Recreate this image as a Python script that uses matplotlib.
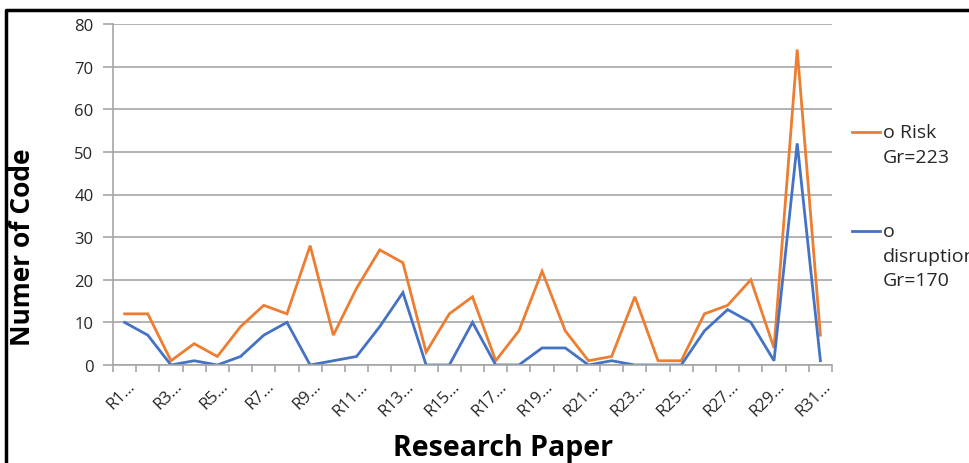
import matplotlib.pyplot as plt
from matplotlib.lines import Line2D
from matplotlib.transforms import ScaledTranslation
import numpy as np

plt.rcParams['font.family'] = ['Open Sans', 'DejaVu Sans']

# codes found per research paper
papers = ["R1", "R2", "R3", "R4", "R5", "R6", "R7", "R8", "R9", "R10",
          "R11", "R12", "R13", "R14", "R15", "R16", "R17", "R18", "R19", "R20",
          "R21", "R22", "R23", "R24", "R25", "R26", "R27", "R28", "R29", "R30",
          "R31"]
risk = [12, 12, 1, 5, 2, 9, 14, 12, 28, 7,
        18, 27, 24, 3, 12, 16, 1, 8, 22, 8,
        1, 2, 16, 1, 1, 12, 14, 20, 4, 74,
        7]
disruption = [10, 7, 0, 1, 0, 2, 7, 10, 0, 1,
              2, 9, 17, 0, 0, 10, 0, 0, 4, 4,
              0, 1, 0, 0, 0, 8, 13, 10, 1, 52,
              1]
series_labels = ["o Risk\nGr=223", "o\ndisruption\nGr=170"]
colors = ["#ED7D31", "#4472C4"]

W, H = 970, 464
fig = plt.figure(figsize=(W / 100, H / 100), dpi=100)
ax = fig.add_axes([113 / W, 1 - 366 / H, (832 - 113) / W, (366 - 25) / H])

x = np.arange(len(papers))
ax.plot(x, risk, color=colors[0], lw=2.0, solid_joinstyle='miter')
ax.plot(x, disruption, color=colors[1], lw=2.0, solid_joinstyle='miter')

grey = "#A6A6A6"
ax.set_xlim(-0.5, len(papers) - 0.5)
ax.set_ylim(0, 80)
ax.set_yticks(range(0, 81, 10))
ax.yaxis.grid(True, color=grey, lw=1.2)
ax.set_axisbelow(True)
for s in ["top", "right"]:
    ax.spines[s].set_visible(False)
for s in ["left", "bottom"]:
    ax.spines[s].set_color(grey)
    ax.spines[s].set_linewidth(1.2)

ax.tick_params(axis='y', length=7, color=grey, width=1.2, labelsize=12,
               labelcolor="#262626", pad=7)

# category boundaries get tick marks, every other paper gets a label
ax.set_xticks(x[::2])
ax.set_xticklabels([p + "…" for p in papers[::2]], rotation=45,
                   ha='right', va='center', rotation_mode='anchor',
                   fontsize=12, color="#262626")
ax.set_xticks(np.arange(len(papers) + 1) - 0.5, minor=True)
ax.tick_params(axis='x', which='major', length=0, pad=13)
ax.tick_params(axis='x', which='minor', length=5, color=grey, width=1.2)
offset = ScaledTranslation(6 / 72, 0, fig.dpi_scale_trans)
for lbl in ax.get_xticklabels():
    lbl.set_transform(lbl.get_transform() + offset)

ax.set_ylabel("Numer of Code", fontsize=19, fontweight='bold')
ax.yaxis.set_label_coords(23 / W, 1 - 247 / H, transform=fig.transFigure)
ax.set_xlabel("Research Paper", fontsize=20.5, fontweight='bold')
ax.xaxis.set_label_coords(503 / W, 1 - 449 / H, transform=fig.transFigure)
ax.xaxis.label.set_va('center')
ax.yaxis.label.set_va('center')

# legend entries on the right, handle level with the first text line
for label, color, ytop in zip(series_labels, colors, [133, 232]):
    fig.add_artist(Line2D([852 / W, 880 / W], [1 - ytop / H] * 2,
                          color=color, lw=2.0))
    fig.text(883 / W, 1 - (ytop - 9) / H, label, fontsize=14, va='top',
             ha='left', color="#262626", linespacing=1.47)

# outer frame
fig.add_artist(Line2D([6 / W, 6 / W, 1], [0, 1 - 10.5 / H, 1 - 10.5 / H],
                      color='black', lw=2.5))

fig.savefig("out.png", dpi=100)
